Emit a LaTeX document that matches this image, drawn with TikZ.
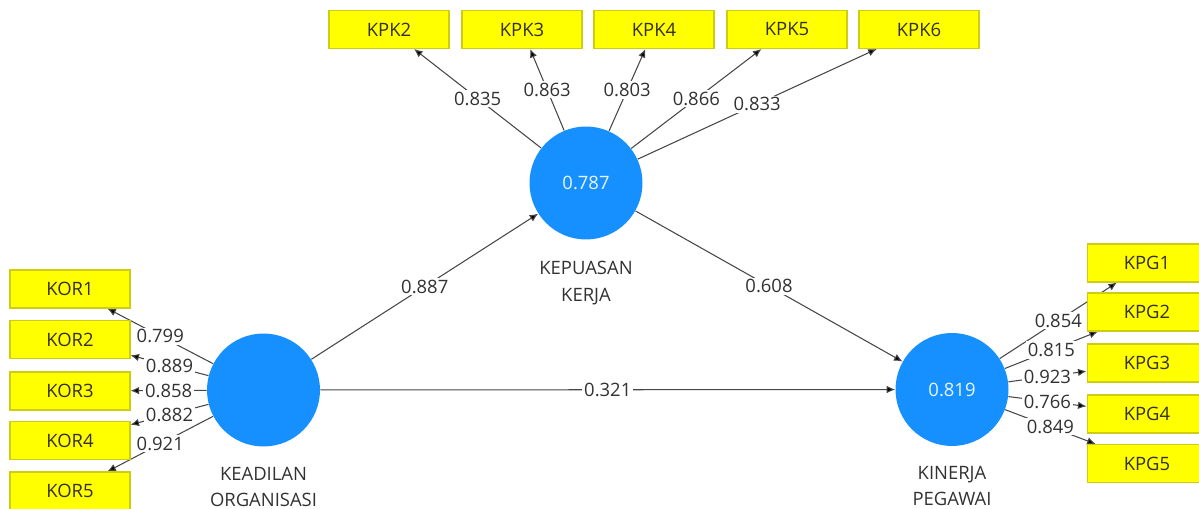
\documentclass[tikz,border=0pt]{standalone}
\usepackage{fontspec}
\setmainfont{Open Sans}
\usetikzlibrary{arrows.meta,backgrounds}
\definecolor{lvblue}{RGB}{22,144,255}
\definecolor{indyellow}{RGB}{255,255,0}
\definecolor{indborder}{RGB}{205,205,20}
\definecolor{pathgray}{RGB}{70,70,70}
\definecolor{labelgray}{RGB}{50,50,50}
\tikzset{
  latent/.style={circle, fill=lvblue, draw=none, minimum size=2.26cm, inner sep=0pt,
    text=white!90!lvblue, font=\fontsize{10.5}{13}\selectfont},
  indicator/.style={rectangle, fill=indyellow, draw=indborder, line width=0.6pt,
    minimum width=2.4cm, minimum height=0.76cm, inner sep=0pt,
    text=black!85!olive, font=\fontsize{10.5}{13}\selectfont},
  lvname/.style={anchor=north, inner sep=0pt, align=center, text=labelgray,
    font=\fontsize{10.5}{15}\selectfont},
  link/.style={draw=pathgray, line width=0.6pt,
    -{Latex[length=1.7mm,width=1.5mm,fill=black]}},
  coef/.style={midway, fill=white, inner sep=1pt, text=labelgray,
    font=\fontsize{10.5}{13}\selectfont}
}
\begin{document}
\begin{tikzpicture}[x=0.02cm, y=-0.02cm]
\useasboundingbox (0,0) rectangle (1199,509);
\clip (0,0) rectangle (1199,509);

% latent variables
\node[latent] (KO) at (263.5,390) {};
\node[latent] (KPK) at (586,183) {0.787};
\node[latent] (KPG) at (952,389.5) {0.819};

\node[lvname] (KOname) at (263.5,467) {KEADILAN\\ORGANISASI};
\node[lvname] (KPKname) at (586,261) {KEPUASAN\\KERJA};
\node[lvname] (KPGname) at (952,466) {KINERJA\\PEGAWAI};

% indicators of KEADILAN ORGANISASI
\node[indicator] (KOR1) at (70,289) {KOR1};
\node[indicator] (KOR2) at (70,339.5) {KOR2};
\node[indicator] (KOR3) at (70,391) {KOR3};
\node[indicator] (KOR4) at (70,440.5) {KOR4};
\node[indicator] (KOR5) at (70,491) {KOR5};

% indicators of KEPUASAN KERJA
\node[indicator] (KPK2) at (389,29.5) {KPK2};
\node[indicator] (KPK3) at (522,29.5) {KPK3};
\node[indicator] (KPK4) at (654,29.5) {KPK4};
\node[indicator] (KPK5) at (787,29.5) {KPK5};
\node[indicator] (KPK6) at (919,29.5) {KPK6};

% indicators of KINERJA PEGAWAI
\node[indicator] (KPG1) at (1147,263) {KPG1};
\node[indicator] (KPG2) at (1147,312) {KPG2};
\node[indicator] (KPG3) at (1147,363) {KPG3};
\node[indicator] (KPG4) at (1147,414) {KPG4};
\node[indicator] (KPG5) at (1147,463.5) {KPG5};

\begin{pgfonlayer}{background}
  % structural paths
  \draw[link] (KO) -- node[coef] (p1) {0.887} (KPK);
  \draw[link] (KPK) -- node[coef] (p2) {0.608} (KPG);
  \draw[link] (KO) -- node[coef] (p3) {0.321} (KPG);

  % outer loadings
  \draw[link] (KO) -- node[coef] (l1) {0.799} (KOR1);
  \draw[link] (KO) -- node[coef] (l2) {0.889} (KOR2);
  \draw[link] (KO) -- node[coef] (l3) {0.858} (KOR3);
  \draw[link] (KO) -- node[coef] (l4) {0.882} (KOR4);
  \draw[link] (KO) -- node[coef] (l5) {0.921} (KOR5);

  \draw[link] (KPK) -- node[coef] (m2) {0.835} (KPK2);
  \draw[link] (KPK) -- node[coef] (m3) {0.863} (KPK3);
  \draw[link] (KPK) -- node[coef] (m4) {0.803} (KPK4);
  \draw[link] (KPK) -- node[coef] (m5) {0.866} (KPK5);
  \draw[link] (KPK) -- node[coef] (m6) {0.833} (KPK6);

  \draw[link] (KPG) -- node[coef] (g1) {0.854} (KPG1);
  \draw[link] (KPG) -- node[coef] (g2) {0.815} (KPG2);
  \draw[link] (KPG) -- node[coef] (g3) {0.923} (KPG3);
  \draw[link] (KPG) -- node[coef] (g4) {0.766} (KPG4);
  \draw[link] (KPG) -- node[coef] (g5) {0.849} (KPG5);
\end{pgfonlayer}
\end{tikzpicture}
\end{document}
